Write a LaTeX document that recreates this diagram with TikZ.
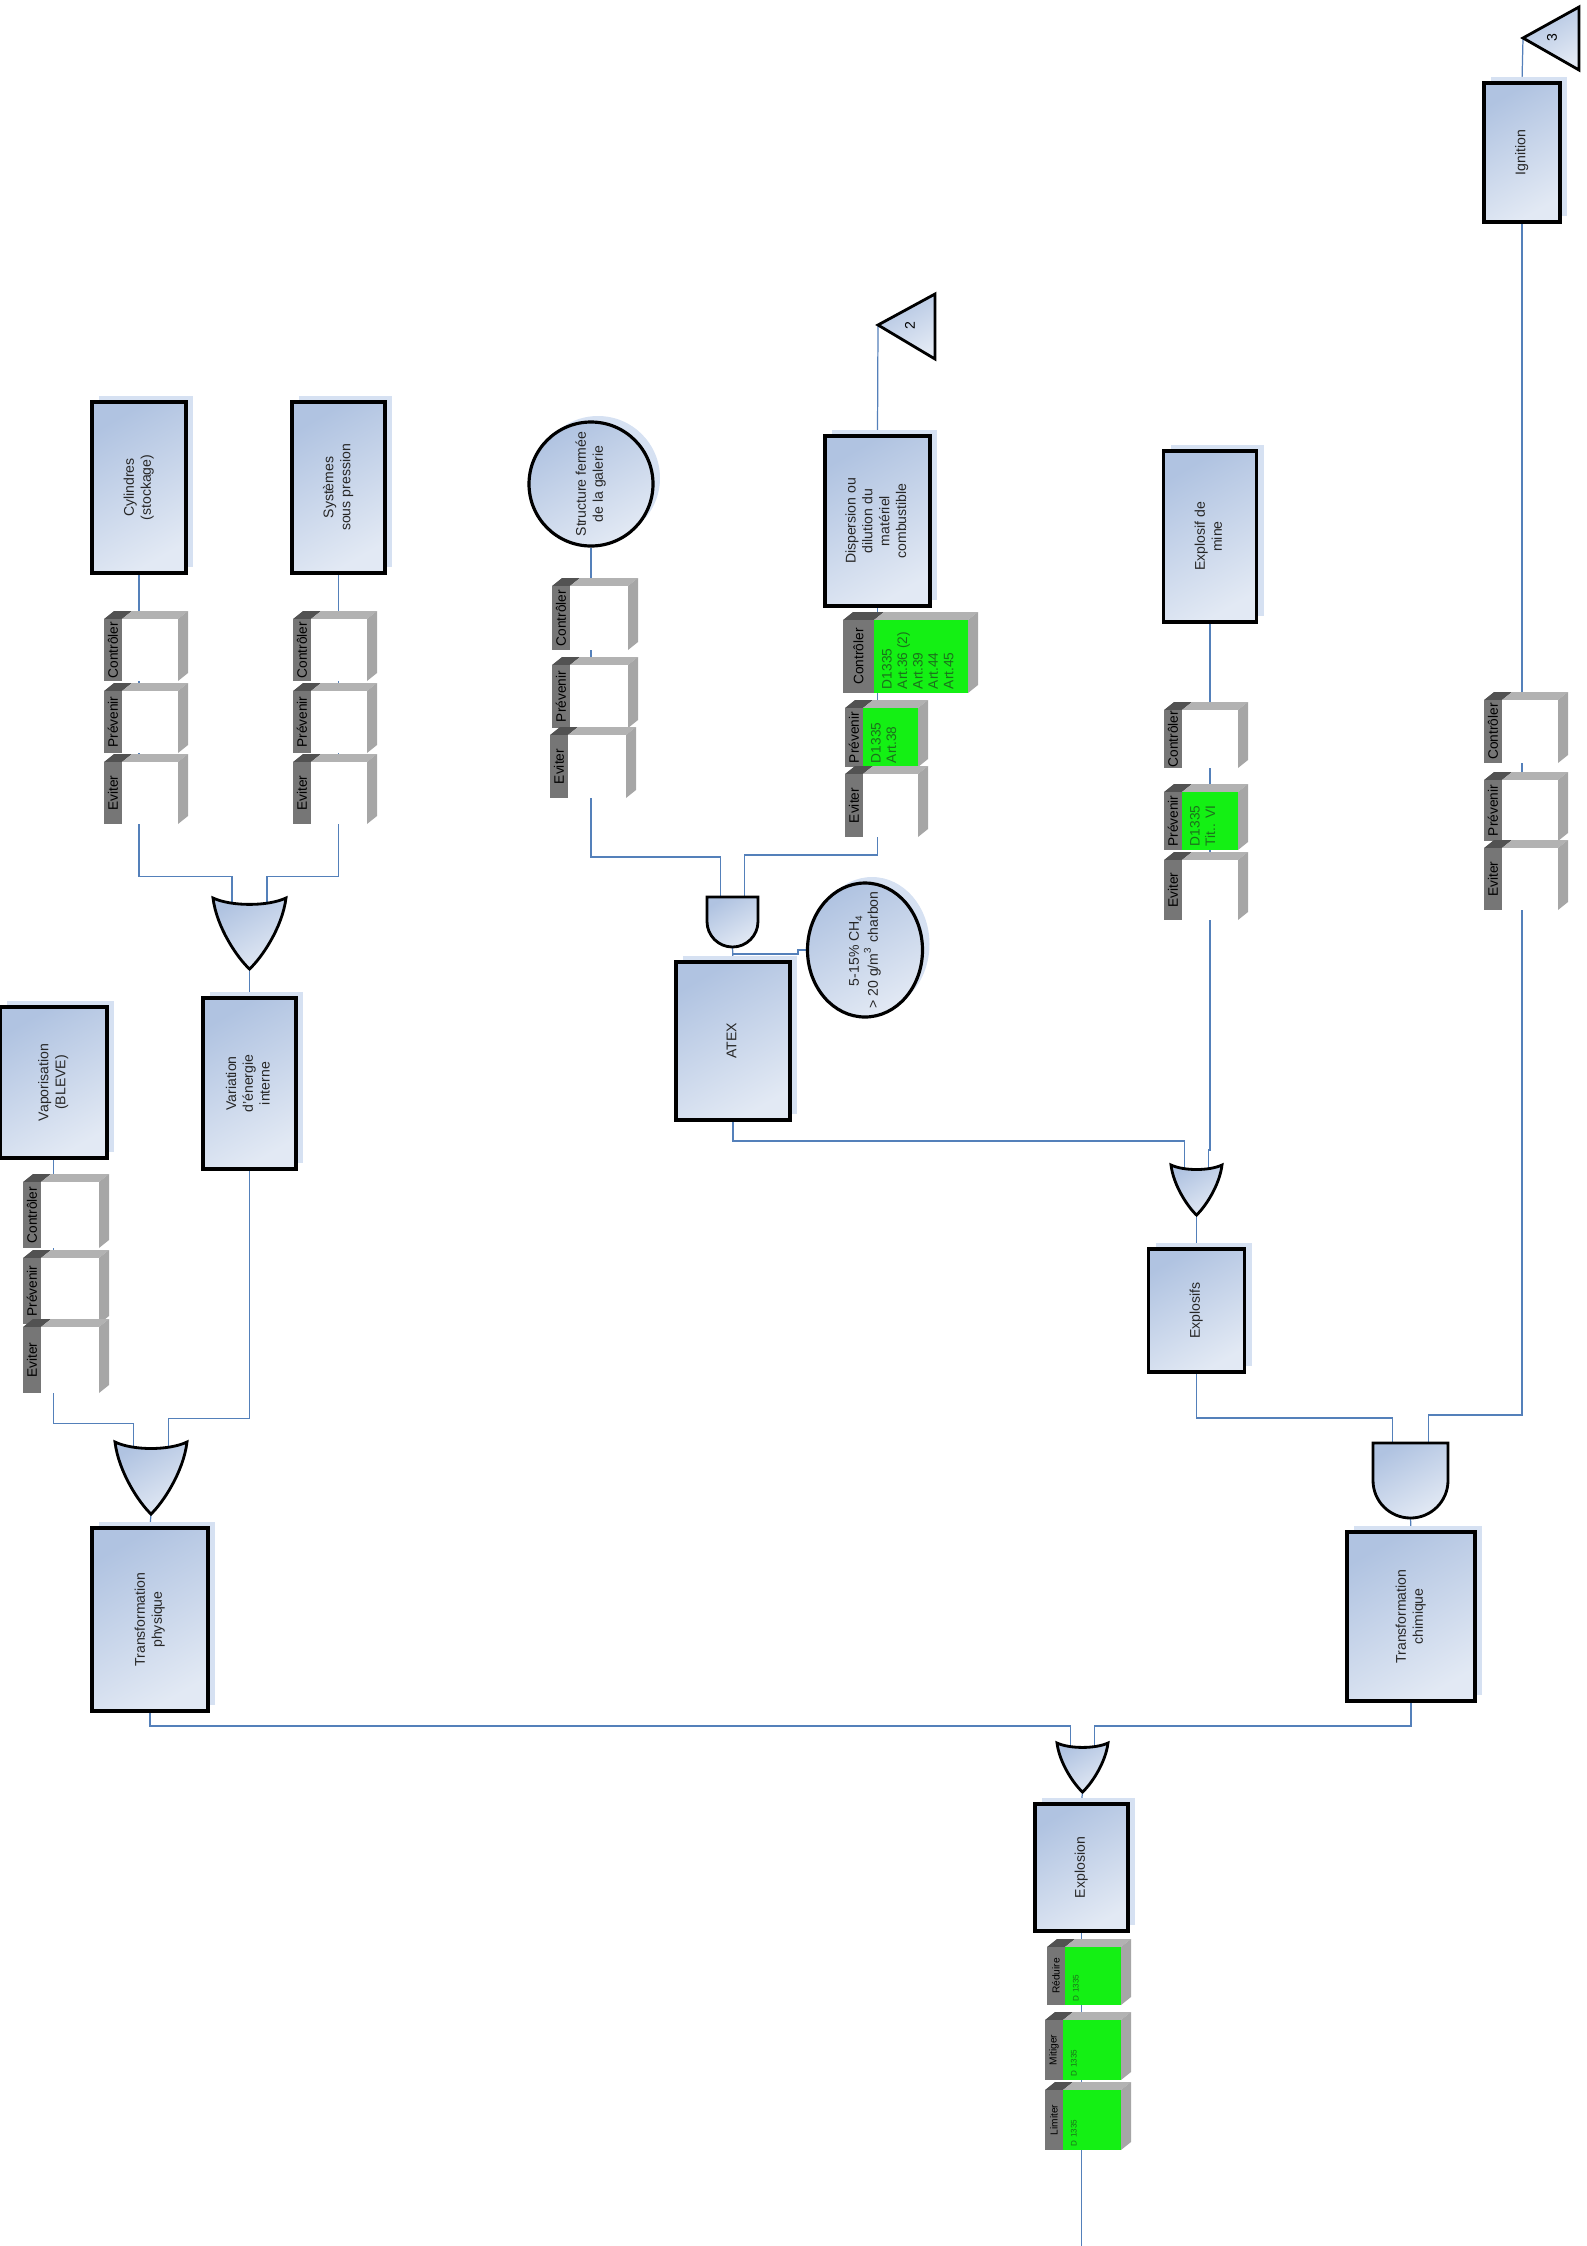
\documentclass[tikz,border=0pt]{standalone}
\usepackage{fontspec}
\setmainfont{Liberation Sans}
\usetikzlibrary{shapes.geometric, shadows}

\pgfdeclarelayer{back}
\pgfsetlayers{back,main}

\definecolor{boxtop}{RGB}{176,195,225}
\definecolor{boxbot}{RGB}{226,233,244}
\definecolor{halo}{RGB}{214,225,242}
\definecolor{wireblue}{RGB}{84,128,186}
\definecolor{panelgrey}{RGB}{118,118,118}
\definecolor{topdark}{RGB}{82,82,82}
\definecolor{toplight}{RGB}{178,178,178}
\definecolor{sidegrey}{RGB}{166,166,166}
\definecolor{okgreen}{RGB}{20,240,20}
\definecolor{reftext}{RGB}{28,112,28}

\newcommand{\boxfont}{\fontsize{4}{4.8}\selectfont}
\newcommand{\lblfont}{\fontsize{3.9}{4.4}\selectfont}
\newcommand{\refsfont}{\fontsize{3.9}{4.4}\selectfont}
\newcommand{\minifont}{\fontsize{2.9}{3.3}\selectfont}
\newcommand{\microfont}{\fontsize{2.3}{2.7}\selectfont}
\newcommand{\vtxt}[1]{\rotatebox{90}{\boxfont\begin{tabular}{@{}c@{}}#1\end{tabular}}}

% barrier block: [label width] name, x, y, front width, height, label, fill, references
\newcommand{\barriere}[9][18]{%
  \fill[topdark] (#3,#4) -- ++(#1,0) -- ++(10,-8) -- ++(-#1,0) -- cycle;
  \fill[toplight] (#3+#1,#4) -- ++(#5,0) -- ++(10,-8) -- ++(-#5,0) -- cycle;
  \fill[sidegrey] (#3+#1+#5,#4) -- ++(10,-8) -- ++(0,#6) -- ++(-10,8) -- cycle;
  \node[mpanel, minimum width=#1*0.1mm, minimum height=#6*0.1mm] (#2-l) at (#3+#1/2,#4+#6/2) {\rotatebox{90}{#7}};
  \node[mfront, fill=#8, minimum width=#5*0.1mm, minimum height=#6*0.1mm] (#2) at (#3+#1+#5/2,#4+#6/2) {};
  \node[mtext, rotate=90, anchor=north west] (#2-t) at (#2.south west) {#9};
}

% OR gate: name, x centre, y top, width, height
\newcommand{\orgate}[5]{%
  \begin{scope}[shift={(#2,#3)}]
    \draw[gatestyle] (-#4/2,0) .. controls (-#4/4,#5*0.12) and (#4/4,#5*0.12) .. (#4/2,0)
      .. controls (#4/2-#4*0.05,#5*0.42) and (#4*0.16,#5*0.85) .. (0,#5)
      .. controls (-#4*0.16,#5*0.85) and (-#4/2+#4*0.05,#5*0.42) .. cycle;
    \coordinate (#1-l) at (-#4*0.24,#5*0.1);
    \coordinate (#1-r) at (#4*0.24,#5*0.1);
    \coordinate (#1-o) at (0,#5);
  \end{scope}}

% AND gate: name, x centre, y top, width, height
\newcommand{\andgate}[5]{%
  \begin{scope}[shift={(#2,#3)}]
    \draw[gatestyle] (-#4/2,0) -- (#4/2,0) -- (#4/2,#5-#4/2)
      arc[start angle=0, end angle=-180, radius=#4*0.05mm] -- cycle;
    \coordinate (#1-l) at (-#4*0.24,#5*0.1);
    \coordinate (#1-r) at (#4*0.24,#5*0.1);
    \coordinate (#1-o) at (0,#5);
  \end{scope}}

\begin{document}
\begin{tikzpicture}[x=0.1mm, y=-0.1mm,
    ebox/.style={draw=black, line width=0.9pt, top color=boxtop, bottom color=boxbot,
      shading angle=30, inner sep=0pt, text=black!85,
      drop shadow={shadow xshift=0.7mm, shadow yshift=0.6mm, fill=halo, opacity=1}},
    gatestyle/.style={draw=black, line width=0.8pt, top color=boxtop, bottom color=boxbot, shading angle=30},
    mpanel/.style={fill=panelgrey, inner sep=0pt, font=\lblfont, text=black},
    mfront/.style={inner sep=0pt},
    mtext/.style={font=\refsfont, text=reftext, align=left, inner xsep=0.4mm, inner ysep=0.8mm},
    wire/.style={draw=wireblue, line width=0.35pt}]

  \useasboundingbox (0,0) rectangle (1587,2246);

  % Draw event boxes
  \node[ebox, minimum width=9.4mm, minimum height=17.1mm] (cyl) at (139,487.5) {\vtxt{Cylindres\\(stockage)}};
  \node[ebox, minimum width=9.3mm, minimum height=17.1mm] (sys) at (338.5,487.5) {\vtxt{Systèmes\\sous pression}};
  \node[ebox, minimum width=10.7mm, minimum height=15.1mm] (vap) at (53.5,1082.5) {\vtxt{Vaporisation\\(BLEVE)}};
  \node[ebox, minimum width=9.3mm, minimum height=17.1mm] (var) at (249.5,1083.5) {\vtxt{Variation\\d'énergie\\interne}};
  \node[ebox, minimum width=11.4mm, minimum height=15.8mm] (atex) at (733,1041) {\vtxt{ATEX}};
  \node[ebox, minimum width=10.5mm, minimum height=17mm] (disp) at (877.5,521) {\vtxt{Dispersion ou\\dilution du\\matériel\\combustible}};
  \node[ebox, minimum width=9.3mm, minimum height=17.1mm] (mine) at (1210,536.5) {\vtxt{Explosif de\\mine}};
  \node[ebox, minimum width=7.6mm, minimum height=13.9mm] (ign) at (1522,152.5) {\vtxt{Ignition}};
  \node[ebox, minimum width=9.6mm, minimum height=12.3mm] (expl) at (1196.5,1310.5) {\vtxt{Explosifs}};
  \node[ebox, minimum width=11.6mm, minimum height=18.3mm] (tphys) at (150,1619.5) {\vtxt{Transformation\\physique}};
  \node[ebox, minimum width=12.8mm, minimum height=16.9mm] (tchim) at (1411,1616.5) {\vtxt{Transformation\\chimique}};
  \node[ebox, minimum width=9.3mm, minimum height=12.7mm] (boom) at (1081.5,1867.5) {\vtxt{Explosion}};

  % Draw conditions
  \node[ebox, ellipse, minimum width=12.4mm, minimum height=12.4mm] (struct) at (591,484) {};
  \node[text=black!85] (struct-t) at (struct) {\vtxt{Structure fermée\\de la galerie}};
  \node[ebox, ellipse, minimum width=11.5mm, minimum height=13.4mm] (ch4) at (865,950) {};
  \node[text=black!85] (ch4-t) at (ch4) {\vtxt{5-15\% CH\textsubscript{4}\\> 20 g/m\textsuperscript{3} charbon}};

  % Draw transfer triangles
  \draw[gatestyle] (878,325) coordinate (tri2) -- (935,294) -- (935,359) -- cycle;
  \node[font=\boxfont] (tri2-t) at (910,326) {\rotatebox{90}{2}};
  \draw[gatestyle] (1523,38) coordinate (tri3) -- (1579,7) -- (1579,70) -- cycle;
  \node[font=\boxfont] (tri3-t) at (1552,38) {\rotatebox{90}{3}};

  % Draw gates
  \orgate{or1}{249.5}{898}{73}{71}
  \orgate{or2}{151}{1442}{72}{72}
  \orgate{or3}{1082.5}{1743}{51}{49}
  \orgate{or4}{1196.5}{1165}{51}{50}
  \andgate{and1}{732.5}{897}{51}{50}
  \andgate{and2}{1410.5}{1443}{75}{75}
  \coordinate (atexin) at (733,954);
  \coordinate (fin) at (1081.5,2246);

  % Draw barriers
  \barriere{cylc}{104}{619}{56}{62}{Contrôler}{white}{}
  \barriere{cylp}{104}{691}{56}{62}{Prévenir}{white}{}
  \barriere{cyle}{104}{762}{56}{62}{Eviter}{white}{}
  \barriere{sysc}{293}{619}{56}{62}{Contrôler}{white}{}
  \barriere{sysp}{293}{691}{56}{62}{Prévenir}{white}{}
  \barriere{syse}{293}{762}{56}{62}{Eviter}{white}{}
  \barriere{vapc}{23}{1182}{58}{66}{Contrôler}{white}{}
  \barriere{vapp}{23}{1258}{58}{66}{Prévenir}{white}{}
  \barriere{vape}{23}{1327}{58}{66}{Eviter}{white}{}
  \barriere{strc}{552}{586}{58}{64}{Contrôler}{white}{}
  \barriere{strp}{552}{665}{58}{63}{Prévenir}{white}{}
  \barriere{stre}{550}{735}{58}{63}{Eviter}{white}{}
  \barriere[31]{dispc}{843}{620}{94}{73}{Contrôler}{okgreen}{D1335\\Art.36 (2)\\Art.39\\Art.44\\Art.45}
  \barriere{dispp}{845}{708}{55}{59}{Prévenir}{okgreen}{D1335\\Art.38}
  \barriere{dispe}{845}{774}{55}{63}{Eviter}{white}{}
  \barriere{minec}{1164}{710}{56}{58}{Contrôler}{white}{}
  \barriere{minep}{1164}{792}{56}{58}{Prévenir}{okgreen}{D1335\\Tit.. VI}
  \barriere{minee}{1164}{860}{56}{60}{Eviter}{white}{}
  \barriere{ignc}{1484}{700}{56}{63}{Contrôler}{white}{}
  \barriere{ignp}{1484}{780}{56}{61}{Prévenir}{white}{}
  \barriere{igne}{1484}{848}{56}{62}{Eviter}{white}{}
  \barriere{boomr}{1047}{1947}{56}{58}{\minifont Réduire}{okgreen}{\microfont D 1335}
  \barriere{boomm}{1045}{2020}{58}{60}{\minifont Mitiger}{okgreen}{\microfont D 1335}
  \barriere{booml}{1045}{2090}{58}{60}{\minifont Limiter}{okgreen}{\microfont D 1335}

  % Draw connectors
  \begin{pgfonlayer}{back}
    \draw[wire] (cyl.south) |- ([yshift=2.9mm]or1-l) -- (or1-l);
    \draw[wire] (sys.south) |- ([yshift=2.9mm]or1-r) -- (or1-r);
    \draw[wire] (or1-o) -- (var.north);
    \draw[wire] (vap.south) |- ([yshift=2.6mm]or2-l) -- (or2-l);
    \draw[wire] (var.south) |- ([yshift=3.1mm]or2-r) -- (or2-r);
    \draw[wire] (or2-o) -- (tphys.north);
    \draw[wire] (tphys.south) |- ([yshift=2.2mm]or3-l) -- (or3-l);
    \draw[wire] (tchim.south) |- ([yshift=2.2mm]or3-r) -- (or3-r);
    \draw[wire] (or3-o) -- (boom.north);
    \draw[wire] (boom.south) -- (fin);
    \draw[wire] (struct.south) |- ([yshift=4.5mm]and1-l) -- (and1-l);
    \draw[wire] (disp.south) |- ([yshift=4.7mm]and1-r) -- (and1-r);
    \draw[wire] (and1-o) -- (atex.north);
    \draw[wire] (ch4.west) -- ++(-8,0) |- (atexin);
    \draw[wire] (atex.south) |- ([yshift=2.9mm]or4-l) -- (or4-l);
    \draw[wire] (mine.south) |- ([yshift=2mm]or4-r) -- (or4-r);
    \draw[wire] (or4-o) -- (expl.north);
    \draw[wire] (expl.south) |- ([yshift=3.25mm]and2-l) -- (and2-l);
    \draw[wire] (ign.south) |- ([yshift=3.55mm]and2-r) -- (and2-r);
    \draw[wire] (and2-o) -- (tchim.north);
    \draw[wire] (tri2) -- (disp.north);
    \draw[wire] (tri3) -- (ign.north);
  \end{pgfonlayer}
\end{tikzpicture}
\end{document}
